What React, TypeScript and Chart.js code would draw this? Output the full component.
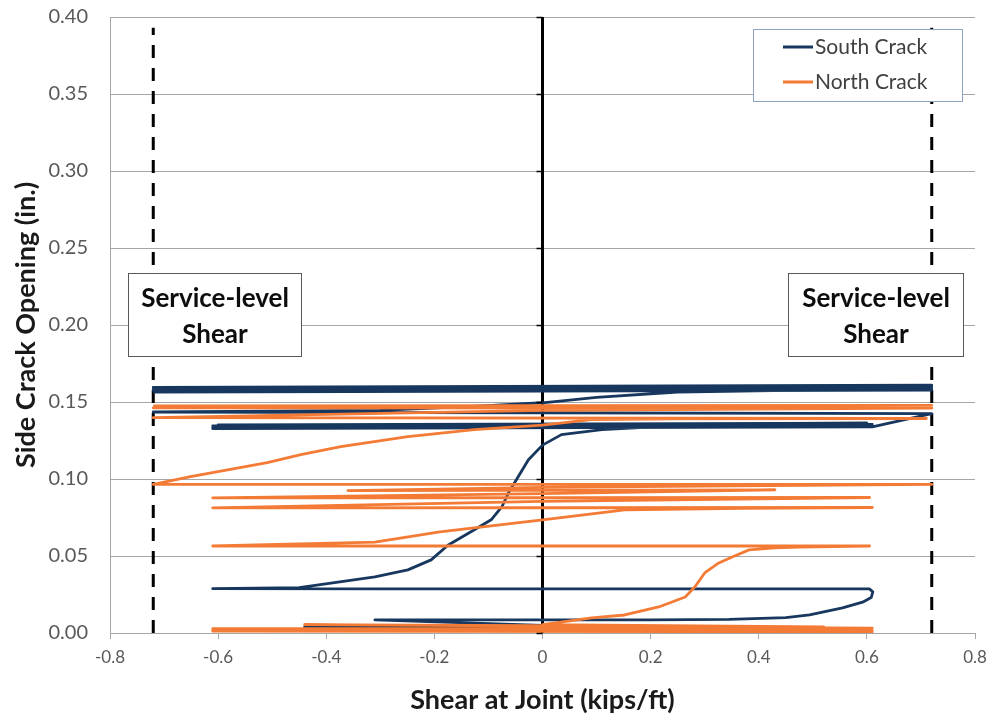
import React, { useEffect, useRef } from "react";
import { Chart, registerables } from "chart.js";

Chart.register(...registerables);

// ---------- data ----------
const seriesNames = ["South Crack", "North Crack"];

const southX = [
  0, -0.44, -0.2, 0, -0.31, 0.2, 0.345, 0.45, 0.494, 0.555, 0.592, 0.608, 0.611, 0.605, 0.3, 0, -0.3, -0.61,
  -0.45, -0.31, -0.249, -0.206, -0.175, -0.126, -0.095, -0.075, -0.063, -0.045, -0.026, 0, 0.035, 0.11, 0.18, 0.61,
  -0.61, 0.61, -0.61, 0.6, -0.6, 0.61, -0.61, 0.61,
  0.72, -0.72, -0.3, -0.11, 0, 0.1, 0.25, 0.72, -0.72, 0.72, -0.72, 0.72, -0.72, 0.72, -0.72,
];
const southY = [
  0.003, 0.004, 0.0045, 0.005, 0.0085, 0.0085, 0.0088, 0.01, 0.0117, 0.0163, 0.02, 0.023, 0.0267, 0.0286, 0.0286, 0.0286, 0.0287, 0.0288,
  0.0295, 0.0364, 0.041, 0.0475, 0.057, 0.067, 0.0735, 0.082, 0.091, 0.1015, 0.1125, 0.122, 0.1288, 0.132, 0.1333, 0.1345,
  0.1335, 0.1355, 0.1345, 0.1362, 0.1352, 0.1348, 0.1328, 0.1338,
  0.1425, 0.1435, 0.1445, 0.1475, 0.1495, 0.153, 0.1565, 0.159, 0.1575, 0.1602, 0.1585, 0.161, 0.1595, 0.1578, 0.1565,
];

const northX = [
  0, 0.61, -0.61, 0.61, -0.61, 0.6, -0.61, 0.61, -0.44, 0.52, 0,
  0.091, 0.152, 0.215, 0.264, 0.282, 0.3, 0.326, 0.351, 0.382, 0.43, 0.475, 0.605, -0.61, -0.31, -0.19, 0,
  0.152, 0.37, 0.61, -0.61, 0, 0.605, -0.61, 0, 0.43, -0.36, 0, 0.72, -0.72,
  -0.651, -0.509, -0.447, -0.373, -0.249, -0.126, 0, 0.09, 0.245, 0.71, -0.72, 0, 0.72, -0.72, 0.72, -0.72,
];
const northY = [
  0.0015, 0.0008, 0.0012, 0.0015, 0.002, 0.0024, 0.0028, 0.0032, 0.0055, 0.004, 0.0055,
  0.0098, 0.0117, 0.0169, 0.0234, 0.03, 0.039, 0.0455, 0.0494, 0.054, 0.0553, 0.0557, 0.0565, 0.0565, 0.059, 0.0657, 0.0735,
  0.08, 0.081, 0.0815, 0.0813, 0.0855, 0.088, 0.0878, 0.0905, 0.093, 0.0925, 0.0945, 0.0965, 0.0965,
  0.1015, 0.1106, 0.1158, 0.121, 0.1275, 0.132, 0.135, 0.1385, 0.139, 0.1393, 0.1398, 0.1445, 0.146, 0.1462, 0.1478, 0.1475,
];

const xTickValues = [-0.8, -0.6, -0.4, -0.2, 0, 0.2, 0.4, 0.6, 0.8];
const serviceShear = [-0.72, 0.72];
const serviceLineY = [0, 0.393];
const zeroLineY = [0, 0.4];
const boxLabel = ["Service-level", "Shear"];
const leftBoxX = [-0.767, -0.447];
const rightBoxX = [0.455, 0.778];
const boxY = [0.18, 0.234];

const NAVY = "#17375E";
const ORANGE = "#F47B35";
const FONT = "Lato, 'Open Sans', sans-serif";

const pts = (xs: number[], ys: number[]) => xs.map((x, i) => ({ x, y: ys[i] }));

const overlayPlugin = {
  id: "overlay",
  afterDatasetsDraw(chart: any) {
    const { ctx, scales } = chart;
    const xs = scales.x, ys = scales.y;
    ctx.save();
    // small ticks on zero line
    ctx.strokeStyle = "#000";
    ctx.lineWidth = 1.5;
    const x0 = xs.getPixelForValue(0);
    for (let v = 0; v <= 0.4001; v += 0.05) {
      const py = Math.round(ys.getPixelForValue(v)) + 0.5;
      ctx.beginPath();
      ctx.moveTo(x0 - 6, py);
      ctx.lineTo(x0, py);
      ctx.stroke();
    }
    // annotation boxes
    const drawBox = (bx: number[]) => {
      const l = Math.round(xs.getPixelForValue(bx[0])) + 0.5;
      const r = Math.round(xs.getPixelForValue(bx[1])) + 0.5;
      const t = Math.round(ys.getPixelForValue(boxY[1])) + 0.5;
      const b = Math.round(ys.getPixelForValue(boxY[0])) + 0.5;
      ctx.fillStyle = "#fff";
      ctx.fillRect(l, t, r - l, b - t);
      ctx.strokeStyle = "#595959";
      ctx.lineWidth = 1;
      ctx.strokeRect(l, t, r - l, b - t);
      ctx.fillStyle = "#0d0d0d";
      ctx.font = `bold 26px ${FONT}`;
      ctx.textAlign = "center";
      ctx.textBaseline = "middle";
      const cx = (l + r) / 2;
      ctx.fillText(boxLabel[0], cx, t + 25);
      ctx.fillText(boxLabel[1], cx, t + 61);
    };
    drawBox(leftBoxX);
    drawBox(rightBoxX);
    // legend
    const lx = 753.5, ly = 29.5, lw = 209, lh = 72;
    ctx.fillStyle = "#fff";
    ctx.fillRect(lx, ly, lw, lh);
    ctx.strokeStyle = "#8EA3BF";
    ctx.lineWidth = 1;
    ctx.strokeRect(lx, ly, lw, lh);
    const colors = [NAVY, ORANGE];
    seriesNames.forEach((name, i) => {
      const yy = 47 + i * 35;
      ctx.strokeStyle = colors[i];
      ctx.lineWidth = 3;
      ctx.beginPath();
      ctx.moveTo(783, yy);
      ctx.lineTo(813, yy);
      ctx.stroke();
      ctx.fillStyle = "#404040";
      ctx.font = `21px ${FONT}`;
      ctx.textAlign = "left";
      ctx.textBaseline = "middle";
      ctx.fillText(name, 815, yy);
    });
    ctx.restore();
  },
};

export default function App() {
  const ref = useRef<HTMLCanvasElement | null>(null);
  useEffect(() => {
    if (!ref.current) return;
    const line = {
      showLine: true,
      pointRadius: 0,
      borderJoinStyle: "round" as const,
      borderCapStyle: "butt" as const,
    };
    const chart = new Chart(ref.current, {
      type: "scatter",
      data: {
        datasets: [
          {
            ...line,
            label: seriesNames[0],
            data: pts(southX, southY),
            borderColor: NAVY,
            backgroundColor: NAVY,
            borderWidth: 2.8,
            order: 2,
          },
          {
            ...line,
            label: seriesNames[1],
            data: pts(northX, northY),
            borderColor: ORANGE,
            backgroundColor: ORANGE,
            borderWidth: 2.8,
            order: 1,
          },
          {
            ...line,
            label: "zero",
            data: pts([0, 0], zeroLineY),
            borderColor: "#000",
            borderWidth: 3,
            order: 4,
          },
          {
            ...line,
            label: "serviceL",
            data: pts([serviceShear[0], serviceShear[0]], serviceLineY),
            borderColor: "#000",
            borderWidth: 3,
            borderDash: [13, 10],
            order: 3,
          },
          {
            ...line,
            label: "serviceR",
            data: pts([serviceShear[1], serviceShear[1]], serviceLineY),
            borderColor: "#000",
            borderWidth: 3,
            borderDash: [13, 10],
            order: 3,
          },
        ],
      },
      options: {
        animation: false,
        responsive: false,
        layout: { padding: { top: 17, right: 22, left: 0, bottom: 0 } },
        plugins: { legend: { display: false }, tooltip: { enabled: false } },
        scales: {
          x: {
            type: "linear",
            min: -0.8,
            max: 0.8,
            afterBuildTicks: (s: any) => {
              s.ticks = xTickValues.map((v) => ({ value: v }));
            },
            ticks: {
              callback: (v: any) => (Math.abs(v) < 1e-9 ? "0" : Number(v).toFixed(1)),
              color: "#595959",
              font: { family: FONT, size: 17 },
              padding: 8,
            },
            grid: { drawOnChartArea: false, drawTicks: true, tickLength: 6, color: "#a6a6a6" },
            border: { color: "#a6a6a6", width: 1 },
            title: {
              display: true,
              text: "Shear at Joint (kips/ft)",
              color: "#1a1a1a",
              font: { family: FONT, size: 27, weight: "bold" },
              padding: { top: 0, bottom: 5 },
            },
            afterFit: (s: any) => {
              s.height = 88;
            },
          },
          y: {
            min: 0,
            max: 0.4,
            ticks: {
              stepSize: 0.05,
              callback: (v: any) => Number(v).toFixed(2),
              color: "#595959",
              font: { family: FONT, size: 20 },
              padding: 4,
            },
            grid: { color: "#a6a6a6", drawTicks: true, tickLength: 18, tickColor: "rgba(0,0,0,0)" },
            border: { color: "#a6a6a6", width: 1 },
            title: {
              display: true,
              text: "Side Crack Opening (in.)",
              color: "#1a1a1a",
              font: { family: FONT, size: 27, weight: "bold" },
              padding: { top: 10, bottom: 0 },
            },
            afterFit: (s: any) => {
              s.width = 110;
            },
          },
        },
      },
      plugins: [overlayPlugin],
    });
    return () => chart.destroy();
  }, []);
  return (
    <div style={{ position: "fixed", left: 0, top: 0, width: 997, height: 721, background: "#fff" }}>
      <canvas ref={ref} width={997} height={721} style={{ display: "block" }} />
    </div>
  );
}
